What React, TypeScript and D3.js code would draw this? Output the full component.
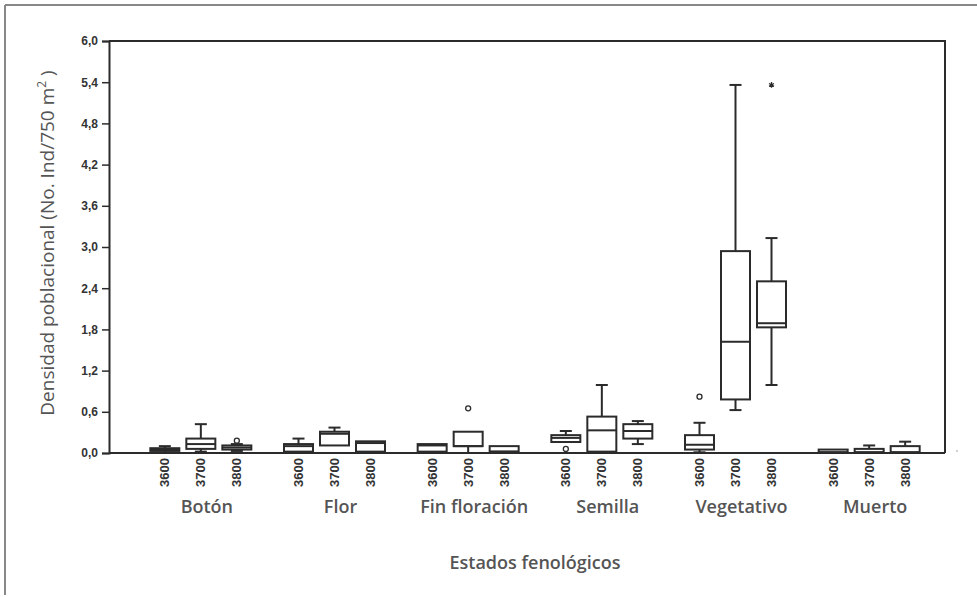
import React, { useRef, useEffect } from "react";
import * as d3 from "d3";

// categories and elevations (m)
const categories = ["Botón", "Flor", "Fin floración", "Semilla", "Vegetativo", "Muerto"];
const elevations = ["3600", "3700", "3800"];

// box stats, ordered category by category, 3600 / 3700 / 3800
const whiskerLow = [0.0, 0.02, 0.03, 0.01, 0.11, 0.02, 0.02, 0.0, 0.02, 0.16, 0.02, 0.13, 0.01, 0.625, 0.99, 0.01, 0.01, 0.01];
const q1 = [0.03, 0.06, 0.05, 0.02, 0.11, 0.02, 0.02, 0.10, 0.02, 0.16, 0.02, 0.21, 0.05, 0.78, 1.83, 0.01, 0.01, 0.01];
const median = [0.05, 0.13, 0.08, 0.10, 0.28, 0.145, 0.11, 0.10, 0.02, 0.22, 0.33, 0.32, 0.12, 1.62, 1.89, 0.01, 0.01, 0.01];
const q3 = [0.07, 0.21, 0.11, 0.13, 0.31, 0.17, 0.13, 0.31, 0.10, 0.26, 0.53, 0.42, 0.26, 2.94, 2.50, 0.05, 0.06, 0.10];
const whiskerHigh = [0.10, 0.42, 0.13, 0.21, 0.37, 0.17, 0.13, 0.31, 0.10, 0.32, 0.99, 0.465, 0.44, 5.36, 3.13, 0.05, 0.11, 0.165];

// outliers (circles) and extremes (stars)
const outliers = [
  { cat: "Botón", elev: "3800", value: 0.18 },
  { cat: "Fin floración", elev: "3700", value: 0.65 },
  { cat: "Semilla", elev: "3600", value: 0.06 },
  { cat: "Vegetativo", elev: "3600", value: 0.82 }
];
const extremes = [{ cat: "Vegetativo", elev: "3800", value: 5.36 }];

const yTicks = [0, 0.6, 1.2, 1.8, 2.4, 3.0, 3.6, 4.2, 4.8, 5.4, 6.0];

const App = () => {
  const svgRef = useRef(null);

  useEffect(() => {
    const svg = d3.select(svgRef.current);
    svg.selectAll("*").remove();

    const width = 977;
    const height = 597;
    const left = 109, right = 945, top = 41, bottom = 453;
    const ink = "#2b2b2b";
    const tickFont = "'Liberation Sans Narrow', 'Liberation Sans', Arial, sans-serif";

    const x0 = d3.scaleBand().domain(categories).range([134, 936]).padding(0);
    const x1 = d3.scalePoint().domain(elevations).range([-36, 36]);
    const y = d3.scaleLinear().domain([0, 6]).range([bottom, top]);
    const fmt = d3.formatLocale({ decimal: ",", thousands: ".", grouping: [3], currency: ["", ""] }).format(".1f");
    const cx = (cat, elev) => x0(cat) + x0.bandwidth() / 2 + x1(elev);
    const boxW = 29;
    const capW = 12;

    // outer figure border (left + top)
    svg.append("line").attr("x1", 5).attr("x2", width).attr("y1", 5).attr("y2", 5)
      .attr("stroke", "#888").attr("stroke-width", 2);
    svg.append("line").attr("x1", 5).attr("x2", 5).attr("y1", 5).attr("y2", height - 2)
      .attr("stroke", "#888").attr("stroke-width", 2);

    // frame: top and right
    svg.append("path")
      .attr("d", `M${left},${top}H${right}V${bottom}`)
      .attr("fill", "none").attr("stroke", ink).attr("stroke-width", 2);

    // y axis
    const yAxis = d3.axisLeft(y).tickValues(yTicks).tickFormat(fmt).tickSize(7).tickPadding(4);
    const gy = svg.append("g").attr("transform", `translate(${left},0)`).call(yAxis);
    gy.select(".domain").attr("stroke", ink).attr("stroke-width", 2);
    gy.selectAll(".tick line").attr("stroke", ink).attr("stroke-width", 1.5);
    gy.selectAll(".tick text")
      .attr("fill", "#333")
      .style("font-family", tickFont)
      .style("font-size", "12px")
      .style("font-weight", "bold");

    // x baseline
    svg.append("line").attr("x1", left).attr("x2", right).attr("y1", bottom).attr("y2", bottom)
      .attr("stroke", ink).attr("stroke-width", 2);

    // elevation labels
    const pairs = [];
    categories.forEach(c => elevations.forEach(e => pairs.push({ cat: c, elev: e })));

    svg.append("g").selectAll("text")
      .data(pairs)
      .enter()
      .append("text")
      .attr("transform", d => `translate(${cx(d.cat, d.elev) + 4.5},${bottom + 5}) rotate(-90)`)
      .attr("text-anchor", "end")
      .style("font-family", tickFont)
      .style("font-size", "13px")
      .style("font-weight", "bold")
      .attr("fill", "#333")
      .text(d => d.elev);

    // boxes
    const boxes = svg.append("g")
      .selectAll("g")
      .data(pairs)
      .enter()
      .append("g")
      .attr("fill", "none")
      .attr("stroke", ink)
      .attr("stroke-width", 2);

    boxes.each(function (d, i) {
      const g = d3.select(this);
      const c = cx(d.cat, d.elev);
      if (whiskerHigh[i] > q3[i]) {
        g.append("line").attr("x1", c).attr("x2", c).attr("y1", y(q3[i])).attr("y2", y(whiskerHigh[i]));
        g.append("line").attr("x1", c - capW / 2).attr("x2", c + capW / 2)
          .attr("y1", y(whiskerHigh[i])).attr("y2", y(whiskerHigh[i]));
      }
      if (whiskerLow[i] < q1[i]) {
        g.append("line").attr("x1", c).attr("x2", c).attr("y1", y(q1[i])).attr("y2", y(whiskerLow[i]));
        g.append("line").attr("x1", c - capW / 2).attr("x2", c + capW / 2)
          .attr("y1", y(whiskerLow[i])).attr("y2", y(whiskerLow[i]));
      }
      g.append("rect")
        .attr("x", c - boxW / 2)
        .attr("y", y(q3[i]))
        .attr("width", boxW)
        .attr("height", Math.max(1, y(q1[i]) - y(q3[i])))
        .attr("fill", "white");
      g.append("line").attr("x1", c - boxW / 2).attr("x2", c + boxW / 2)
        .attr("y1", y(median[i])).attr("y2", y(median[i]));
    });

    // outliers
    svg.append("g").selectAll("circle")
      .data(outliers)
      .enter()
      .append("circle")
      .attr("cx", d => cx(d.cat, d.elev))
      .attr("cy", d => y(d.value))
      .attr("r", 2.5)
      .attr("fill", "none")
      .attr("stroke", ink)
      .attr("stroke-width", 1.3);

    // extremes
    svg.append("g").selectAll("path")
      .data(extremes)
      .enter()
      .append("path")
      .attr("transform", d => `translate(${cx(d.cat, d.elev)},${y(d.value)})`)
      .attr("d", d3.symbol(d3.symbolAsterisk || d3.symbolCross, 22)())
      .attr("fill", "none")
      .attr("stroke", ink)
      .attr("stroke-width", 1.3);

    // category labels
    svg.append("g").selectAll("text")
      .data(categories)
      .enter()
      .append("text")
      .attr("x", d => x0(d) + x0.bandwidth() / 2 + 6)
      .attr("y", 513)
      .attr("text-anchor", "middle")
      .style("font-family", "'Open Sans', sans-serif")
      .style("font-size", "18px")
      .style("font-weight", 600)
      .attr("fill", "#555")
      .text(d => d);

    // axis titles
    svg.append("text")
      .attr("x", 535)
      .attr("y", 569)
      .attr("text-anchor", "middle")
      .style("font-family", "'Open Sans', sans-serif")
      .style("font-size", "18px")
      .style("font-weight", 600)
      .attr("fill", "#555")
      .text("Estados fenológicos");

    const yTitle = svg.append("text")
      .attr("transform", `translate(54,243) rotate(-90)`)
      .attr("text-anchor", "middle")
      .style("font-family", "'Open Sans', sans-serif")
      .style("font-size", "19px")
      .attr("fill", "#555");
    yTitle.append("tspan").text("Densidad poblacional (No. Ind/750 m");
    yTitle.append("tspan").attr("dy", -8).style("font-size", "12px").text("2");
    yTitle.append("tspan").attr("dy", 8).text(" )");

    // stray mark at right edge
    svg.append("circle").attr("cx", 957).attr("cy", 451).attr("r", 0.8).attr("fill", "#999");
  }, []);

  return (
    <svg
      ref={svgRef}
      width={977}
      height={597}
      style={{ position: "absolute", left: 0, top: 0, background: "white" }}
    ></svg>
  );
};

export default App;
